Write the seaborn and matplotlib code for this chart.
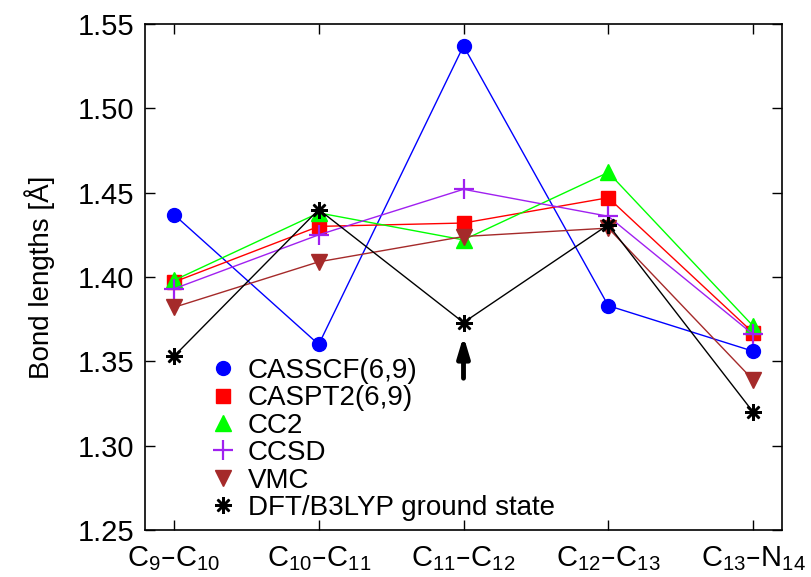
import matplotlib
matplotlib.use("Agg")
import matplotlib.pyplot as plt
import seaborn as sns
import pandas as pd
from matplotlib.lines import Line2D

bonds = [r"C$_{9}$–C$_{10}$", r"C$_{10}$–C$_{11}$", r"C$_{11}$–C$_{12}$",
         r"C$_{12}$–C$_{13}$", r"C$_{13}$–N$_{14}$"]
casscf = [1.437, 1.360, 1.537, 1.383, 1.356]
caspt2 = [1.397, 1.430, 1.432, 1.447, 1.367]
cc2 = [1.398, 1.438, 1.422, 1.462, 1.371]
ccsd = [1.393, 1.425, 1.452, 1.436, 1.366]
vmc = [1.382, 1.409, 1.424, 1.429, 1.339]
dft = [1.353, 1.440, 1.373, 1.431, 1.320]
methods = ["CASSCF(6,9)", "CASPT2(6,9)", "CC2", "CCSD", "VMC", "DFT/B3LYP ground state"]
series = [casscf, caspt2, cc2, ccsd, vmc, dft]
yticks = [1.25, 1.30, 1.35, 1.40, 1.45, 1.50, 1.55]
arrow_tail = 1.340
arrow_head = 1.365

sns.set_theme(style="ticks")
plt.rcParams["font.family"] = ["Liberation Sans", "DejaVu Sans"]
plt.rcParams["mathtext.default"] = "regular"
plt.rcParams["text.color"] = "black"
plt.rcParams["axes.labelcolor"] = "black"
plt.rcParams["xtick.color"] = "black"
plt.rcParams["ytick.color"] = "black"
plt.rcParams["xtick.labelcolor"] = "black"
plt.rcParams["ytick.labelcolor"] = "black"

colors = ["#0000ff", "#ff0000", "#00ff00", "#a020f0", "#a52a2a", "#000000"]
markers = ["o", "s", "^", "+", "v", (8, 2, 0)]
msizes = [10, 10, 11, 14, 11, 12]
mews = [1, 1, 1, 1.6, 1, 1.8]

rows = []
for m, vals in zip(methods, series):
    for i, v in enumerate(vals):
        rows.append({"method": m, "pos": i, "value": v})
df = pd.DataFrame(rows)

fig = plt.figure(figsize=(8.11, 5.77), dpi=100)
ax = fig.add_axes([145 / 811, 1 - 530 / 577, (782 - 145) / 811, (530 - 24) / 577])

for m, c, mk, ms, mw in zip(methods, colors, markers, msizes, mews):
    sub = df[df["method"] == m]
    sns.lineplot(data=sub, x="pos", y="value", ax=ax, color=c, marker=mk,
                 markersize=ms, markeredgewidth=mw, markeredgecolor=c,
                 linewidth=1, legend=False)

ax.annotate("", xy=(2, arrow_head), xytext=(2, arrow_tail),
            arrowprops=dict(arrowstyle="-|>,head_width=0.3,head_length=1.0",
                            color="black", lw=3.5, shrinkA=0, shrinkB=0))

ax.set_xlim(-0.2, 4.2)
ax.set_ylim(1.25, 1.55)
ax.set_xticks(range(len(bonds)))
ax.set_xticklabels(bonds, fontsize=21)
ax.set_yticks(yticks)
ax.set_yticklabels([f"{t:.2f}" for t in yticks], fontsize=21)
ax.set_xlabel("")
ax.set_ylabel("Bond lengths [Å]", fontsize=20, labelpad=16, color="black")
ax.tick_params(direction="in", length=7, width=1,
               top=True, right=True, color="black", labelcolor="black")
ax.tick_params(axis="x", pad=10)
ax.tick_params(axis="y", pad=8)
for s in ax.spines.values():
    s.set_linewidth(1.2)
    s.set_color("black")

handles = [Line2D([], [], linestyle="none", color=c, marker=mk, markersize=ms,
                  markeredgewidth=mw, markeredgecolor=c)
           for c, mk, ms, mw in zip(colors, markers, msizes, mews)]
leg = ax.legend(handles, methods, loc="lower left", bbox_to_anchor=(0.07, -0.015),
                frameon=False, fontsize=20, handletextpad=0.3, labelspacing=0.05,
                handlelength=1.2, borderaxespad=0.2)
for t in leg.get_texts():
    t.set_color("black")

fig.savefig("out.png", dpi=100)
